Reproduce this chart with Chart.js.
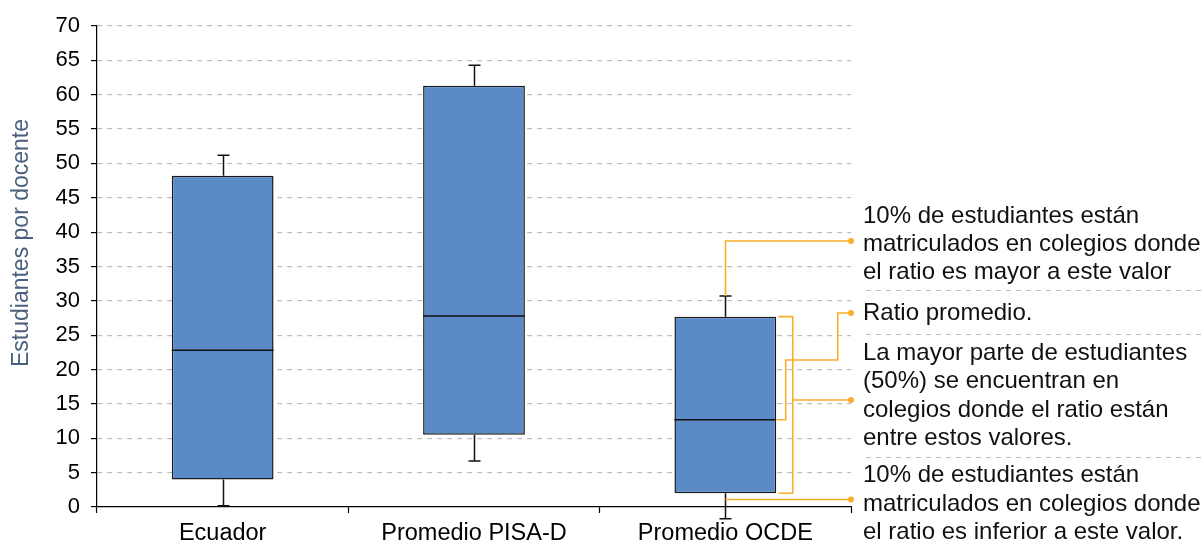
<!DOCTYPE html>
<html>
<head>
<meta charset="utf-8">
<script src="https://cdn.jsdelivr.net/npm/chart.js@4.4.1/dist/chart.umd.min.js"></script>
<style>
  html, body { margin: 0; padding: 0; background: #ffffff; }
  #wrap { width: 1203px; height: 540px; }
</style>
</head>
<body>
<div id="wrap"><canvas id="c" width="1203" height="540"></canvas></div>
<script>
// ---- data ----
const categories = ['Ecuador', 'Promedio PISA-D', 'Promedio OCDE'];
const p10    = [0.2, 6.7, -1.7];
const q1     = [4.0, 10.5, 2.0];
const median = [22.8, 27.8, 12.7];
const q3     = [48.2, 61.3, 27.7];
const p90    = [51.2, 64.3, 30.7];
const yTitle = 'Estudiantes por docente';
const noteTop    = ['10% de estudiantes están', 'matriculados en colegios donde', 'el ratio es mayor a este valor'];
const noteMean   = ['Ratio promedio.'];
const noteBox    = ['La mayor parte de estudiantes', '(50%) se encuentran en', 'colegios donde el ratio están', 'entre estos valores.'];
const noteBottom = ['10% de estudiantes están', 'matriculados en colegios donde', 'el ratio es inferior a este valor.'];

const FONT = '"Liberation Sans", Arial, Helvetica, sans-serif';
const ORANGE = '#F7AE2B';
const GRID = '#bdbdbd';

const boxParts = {
  id: 'boxParts',
  afterDraw(chart) {
    const ctx = chart.ctx;
    const y = chart.scales.y;
    const meta = chart.getDatasetMeta(0);
    ctx.save();
    ctx.strokeStyle = '#111';
    ctx.lineWidth = 1.5;
    meta.data.forEach((el, i) => {
      const cx = Math.round(el.x) + 0.5;
      const half = el.width / 2;
      const yq1 = y.getPixelForValue(q1[i]);
      const yq3 = y.getPixelForValue(q3[i]);
      const ylo = y.getPixelForValue(p10[i]);
      const yhi = y.getPixelForValue(p90[i]);
      const ym = y.getPixelForValue(median[i]);
      ctx.beginPath();
      ctx.moveTo(cx, yq3); ctx.lineTo(cx, yhi);
      ctx.moveTo(cx - 6, yhi); ctx.lineTo(cx + 6, yhi);
      ctx.moveTo(cx, yq1); ctx.lineTo(cx, ylo);
      ctx.moveTo(cx - 6, ylo); ctx.lineTo(cx + 6, ylo);
      ctx.moveTo(el.x - half, ym); ctx.lineTo(el.x + half, ym);
      ctx.stroke();
    });
    ctx.restore();
  }
};

const notes = {
  id: 'notes',
  afterDraw(chart) {
    const ctx = chart.ctx;
    const y = chart.scales.y;
    const el = chart.getDatasetMeta(0).data[2];
    const cx = Math.round(el.x) + 0.5;
    const right = el.x + el.width / 2;
    const dotX = chart.chartArea.right;
    ctx.save();
    // y axis title
    ctx.fillStyle = '#4b607e';
    ctx.font = '23px ' + FONT;
    ctx.translate(22, 243);
    ctx.rotate(-Math.PI / 2);
    ctx.textAlign = 'center';
    ctx.textBaseline = 'middle';
    ctx.fillText(yTitle, 0, 0);
    ctx.restore();

    ctx.save();
    ctx.strokeStyle = ORANGE;
    ctx.fillStyle = ORANGE;
    ctx.lineWidth = 1.6;
    const dot = (x, yy) => { ctx.beginPath(); ctx.arc(x, yy, 3, 0, Math.PI * 2); ctx.fill(); };
    // top whisker connector
    ctx.beginPath();
    ctx.moveTo(cx, y.getPixelForValue(p90[2]));
    ctx.lineTo(cx, 241); ctx.lineTo(dotX, 241);
    ctx.stroke(); dot(dotX, 241);
    // median connector
    const ym = y.getPixelForValue(median[2]);
    ctx.beginPath();
    ctx.moveTo(right + 1, ym); ctx.lineTo(right + 9.5, ym);
    ctx.lineTo(right + 9.5, 360); ctx.lineTo(right + 61.5, 360);
    ctx.lineTo(right + 61.5, 313); ctx.lineTo(dotX, 313);
    ctx.stroke(); dot(dotX, 313);
    // box bracket
    const yq3 = y.getPixelForValue(q3[2]);
    const yq1 = y.getPixelForValue(q1[2]);
    ctx.beginPath();
    ctx.moveTo(right + 2, yq3); ctx.lineTo(right + 16.5, yq3);
    ctx.lineTo(right + 16.5, yq1); ctx.lineTo(right + 2, yq1);
    ctx.moveTo(right + 16.5, 400); ctx.lineTo(dotX, 400);
    ctx.stroke(); dot(dotX, 400);
    // bottom whisker connector
    ctx.beginPath();
    ctx.moveTo(cx, 499.5); ctx.lineTo(dotX, 499.5);
    ctx.stroke(); dot(dotX, 499.5);
    ctx.restore();

    // separators
    ctx.save();
    ctx.strokeStyle = GRID;
    ctx.lineWidth = 1.2;
    ctx.setLineDash([5, 5]);
    [290.5, 334.5, 457.5].forEach(yy => {
      ctx.beginPath(); ctx.moveTo(866, yy); ctx.lineTo(1203, yy); ctx.stroke();
    });
    ctx.restore();

    // texts
    ctx.save();
    ctx.fillStyle = '#111';
    ctx.font = '24px ' + FONT;
    ctx.textAlign = 'left';
    ctx.textBaseline = 'alphabetic';
    const block = (lines, base) => lines.forEach((t, k) => ctx.fillText(t, 863, base + k * 28.35));
    block(noteTop, 222.7);
    block(noteMean, 320);
    block(noteBox, 360);
    block(noteBottom, 482.3);
    ctx.restore();
  }
};

new Chart(document.getElementById('c'), {
  type: 'bar',
  data: {
    labels: categories,
    datasets: [{
      data: q1.map((v, i) => [v, q3[i]]),
      backgroundColor: '#5B8BC7',
      borderColor: '#1a1a1a',
      borderWidth: 1.5,
      borderSkipped: false,
      barPercentage: 0.405,
      categoryPercentage: 1
    }]
  },
  options: {
    responsive: false,
    animation: false,
    devicePixelRatio: 1,
    layout: { padding: { left: 0, right: 352, top: 26, bottom: 0 } },
    plugins: { legend: { display: false }, tooltip: { enabled: false } },
    scales: {
      x: {
        offset: true,
        grid: { display: true, drawOnChartArea: false, drawTicks: true, tickLength: 6, tickColor: '#000', tickWidth: 1.2, offset: true },
        border: { color: '#000', width: 1.2 },
        ticks: { color: '#000', font: { size: 23.5, family: FONT }, padding: 6, maxRotation: 0 },
        afterFit: s => { s.height = 33; }
      },
      y: {
        min: 0, max: 70,
        ticks: { stepSize: 5, color: '#000', font: { size: 22, family: FONT }, padding: 11 },
        grid: {
          color: c => (c.tick && c.tick.value === 0) ? 'rgba(0,0,0,0)' : GRID,
          lineWidth: 1.2, tickColor: '#000', tickLength: 6, tickWidth: 1.2
        },
        border: { color: '#000', width: 1.2, dash: [5, 5] },
        afterFit: s => { s.width = 97; }
      }
    }
  },
  plugins: [boxParts, notes]
});
</script>
</body>
</html>
